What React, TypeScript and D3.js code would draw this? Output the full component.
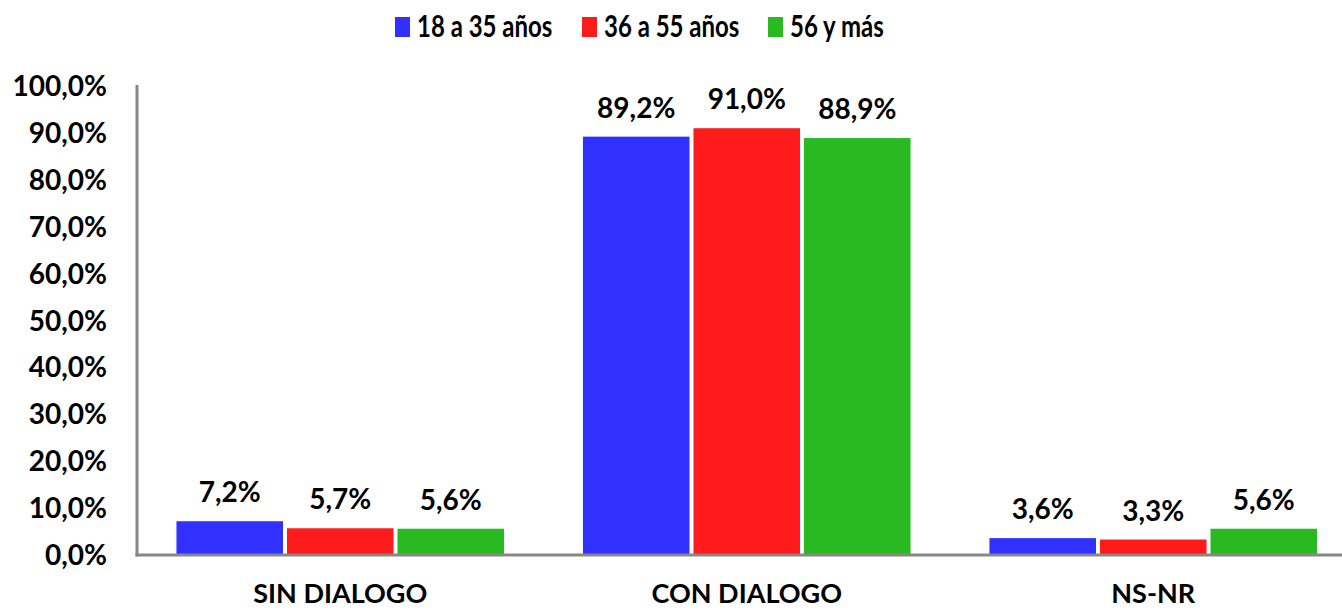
import * as d3 from 'd3'
import React from 'react'

const categories = ['SIN DIALOGO', 'CON DIALOGO', 'NS-NR']
const seriesNames = ['18 a 35 años', '36 a 55 años', '56 y más']
const seriesColors = ['#3131FF', '#FF1B1B', '#29BA22']
const youngValues = [7.2, 89.2, 3.6]
const middleValues = [5.7, 91.0, 3.3]
const olderValues = [5.6, 88.9, 5.6]
const yTicks = [0, 10, 20, 30, 40, 50, 60, 70, 80, 90, 100]

const seriesValues = [youngValues, middleValues, olderValues]

const width = 1342
const height = 611
const font = 'Lato, "Open Sans", sans-serif'
const axisColor = '#878787'

const fmt = (v: number) => v.toFixed(1).replace('.', ',') + '%'

const App = () => {
  const margin = { left: 137, top: 86, bottom: 555 }
  const step = 406.5

  const x0 = d3
    .scaleBand<string>()
    .domain(categories)
    .range([margin.left, margin.left + step * categories.length])
  const x1 = d3
    .scaleBand<string>()
    .domain(seriesNames)
    .range([0, x0.bandwidth()])
    .paddingInner(0.036)
    .paddingOuter(0.357)
  const y = d3.scaleLinear().domain([0, 100]).range([margin.bottom, margin.top])

  // legend positions (square x)
  const legendX = [395, 582, 768]

  return (
    <svg
      width={width}
      height={height}
      style={{ position: 'absolute', left: 0, top: 0, background: '#fff' }}
      fontFamily={font}
      fontWeight="bold"
    >
      {/* legend */}
      {seriesNames.map((s, i) => (
        <g key={s}>
          <rect x={legendX[i]} y={17} width={15} height={20} fill={seriesColors[i]} />
          <text
            transform={`translate(${legendX[i] + 22},37) scale(1,1.27)`}
            fontSize={24}
            fill="#000"
          >
            {s}
          </text>
        </g>
      ))}

      {/* y tick labels */}
      {yTicks.map((t) => (
        <text
          key={t}
          x={107}
          y={y(t)}
          dy="0.36em"
          textAnchor="end"
          fontSize={28}
          fill="#000"
        >
          {fmt(t)}
        </text>
      ))}

      {/* bars */}
      {categories.map((c, ci) => (
        <g key={c} transform={`translate(${x0(c)},0)`}>
          {seriesNames.map((s, si) => {
            const v = seriesValues[si][ci]
            const bx = x1(s) as number
            return (
              <g key={s}>
                <rect
                  x={bx}
                  y={y(v)}
                  width={x1.bandwidth()}
                  height={y(0) - y(v)}
                  fill={seriesColors[si]}
                />
                <text
                  x={bx + x1.bandwidth() / 2}
                  y={y(v) - 19}
                  textAnchor="middle"
                  fontSize={28}
                  fill="#000"
                >
                  {fmt(v)}
                </text>
              </g>
            )
          })}
          <text
            x={x0.bandwidth() / 2}
            y={603}
            textAnchor="middle"
            fontSize={27}
            fill="#000"
          >
            {c}
          </text>
        </g>
      ))}

      {/* axes */}
      <line x1={margin.left} x2={margin.left} y1={85} y2={y(0) + 1.5} stroke={axisColor} strokeWidth={3} />
      <line x1={margin.left - 1.5} x2={width} y1={y(0)} y2={y(0)} stroke={axisColor} strokeWidth={3} />
    </svg>
  )
}

export default App
